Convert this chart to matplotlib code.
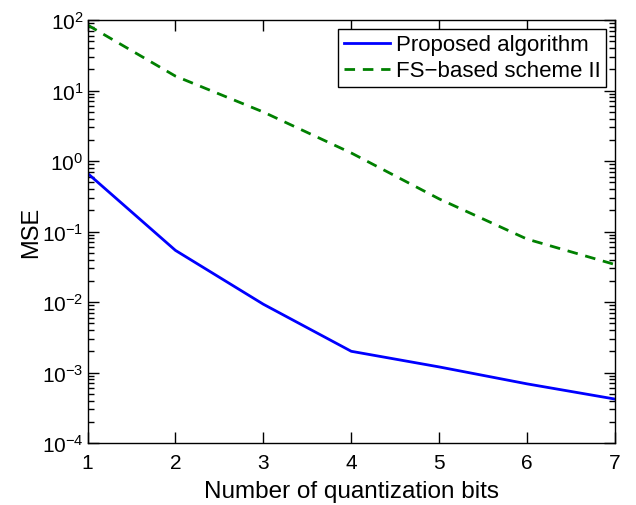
import matplotlib
matplotlib.use('Agg')
import matplotlib.pyplot as plt
from matplotlib.ticker import LogLocator, NullFormatter, LogFormatterMathtext

plt.rcParams['font.family'] = ['Liberation Sans', 'DejaVu Sans']
plt.rcParams['mathtext.default'] = 'regular'

# data
bits = [1, 2, 3, 4, 5, 6, 7]
mse_proposed = [0.67, 0.054, 0.0093, 0.0020, 0.0012, 0.00069, 0.00042]
mse_fs = [85, 16, 4.95, 1.3, 0.29, 0.078, 0.034]
y_decades = [1e-4, 1e-3, 1e-2, 1e-1, 1e0, 1e1, 1e2]

fig = plt.figure(figsize=(6.36, 5.06), dpi=100)
ax = fig.add_axes([0.1376, 0.1225, 0.8294, 0.836])

ax.semilogy(bits, mse_proposed, color='#0000ff', linewidth=2.0, label='Proposed algorithm')
ax.semilogy(bits, mse_fs, color='#008000', linewidth=2.0, linestyle=(0, (3.8, 2.8)),
            label='FS\u2212based scheme II')

ax.set_xlim(1, 7)
ax.set_ylim(1e-4, 1e2)
ax.set_xticks(bits)
ax.set_yticks(y_decades)
ax.yaxis.set_major_formatter(LogFormatterMathtext())
ax.yaxis.set_minor_locator(LogLocator(base=10, subs=range(2, 10), numticks=10))
ax.yaxis.set_minor_formatter(NullFormatter())

ax.tick_params(which='both', direction='in', top=True, right=True, labelsize=15, width=1.0)
ax.tick_params(which='major', length=8)
ax.tick_params(which='minor', length=4)
ax.tick_params(axis='x', pad=7)
ax.tick_params(axis='y', pad=3)
for s in ax.spines.values():
    s.set_linewidth(1.0)

ax.set_xlabel('Number of quantization bits', fontsize=17.5, labelpad=6)
ax.set_ylabel('MSE', fontsize=17, labelpad=0)

leg = ax.legend(loc='upper right', fontsize=16, fancybox=False, framealpha=1,
                edgecolor='black', borderpad=0.25, handlelength=2.1,
                handletextpad=0.25, labelspacing=0.22, borderaxespad=0.4)
leg.get_frame().set_linewidth(1.0)

fig.savefig('out.png', dpi=100)
